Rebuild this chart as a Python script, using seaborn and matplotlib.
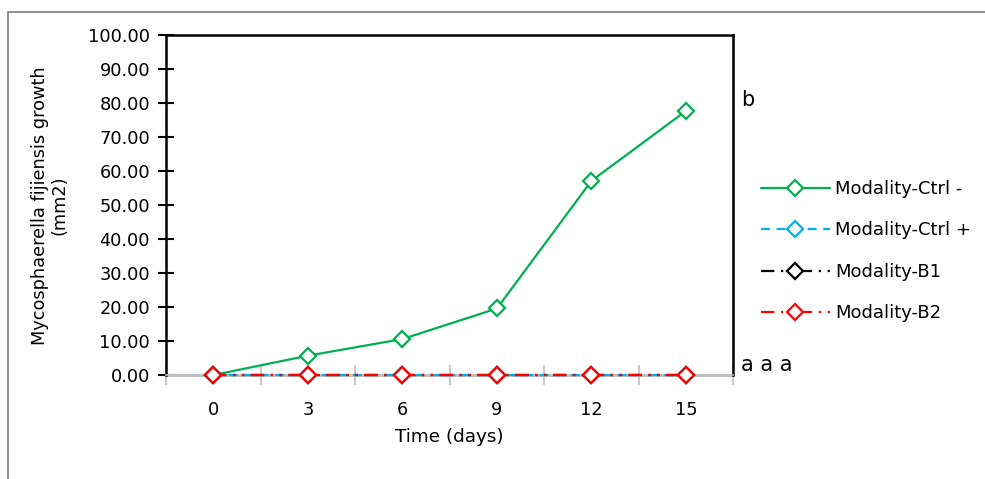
import pandas as pd
import matplotlib.pyplot as plt
import seaborn as sns
from matplotlib.patches import Rectangle
from matplotlib.ticker import FixedLocator, NullFormatter

# data
days = ["0", "3", "6", "9", "12", "15"]
ctrl_minus = [0.0, 5.7, 10.6, 19.6, 57.2, 77.8]
ctrl_plus = [0.0, 0.0, 0.0, 0.0, 0.0, 0.0]
b1 = [0.0, 0.0, 0.0, 0.0, 0.0, 0.0]
b2 = [0.0, 0.0, 0.0, 0.0, 0.0, 0.0]
series_names = ["Modality-Ctrl -", "Modality-Ctrl +", "Modality-B1", "Modality-B2"]
letters_top = "b"
letters_bottom = "a a a"

df = pd.DataFrame({
    "day": days * 4,
    "growth": ctrl_minus + ctrl_plus + b1 + b2,
    "modality": [n for n in series_names for _ in days],
})

sns.set_style("white")
plt.rcParams["font.family"] = ["DejaVu Sans"]
plt.rcParams["text.color"] = "black"
plt.rcParams["axes.labelcolor"] = "black"
plt.rcParams["xtick.color"] = "black"
plt.rcParams["ytick.color"] = "black"

fig = plt.figure(figsize=(9.85, 4.79), dpi=100)
ax = fig.add_axes([0.1685, 0.217, 0.576, 0.709])

colors = ["#00B050", "#00B0F0", "#000000", "#FF0000"]
styles = ["-", (0, (4, 3)), (0, (6, 3, 1, 3, 1, 3)), (0, (6, 3, 1, 3, 1, 3))]

# light grey category axis at zero
ax.axhline(0, color="#BFBFBF", lw=2.2, zorder=1, clip_on=False)

sns.pointplot(
    data=df, x="day", y="growth", hue="modality", order=days,
    hue_order=series_names, palette=colors, markers="D",
    linestyles=styles, dodge=False, errorbar=None, ax=ax,
    markersize=8, markerfacecolor="white", markeredgewidth=1.6,
    linewidth=1.6, zorder=3, clip_on=False,
)

ax.set_xlim(-0.5, 5.5)
ax.set_ylim(0, 100)
ax.set_yticks(range(0, 101, 10))
ax.set_yticklabels([f"{v:.2f}" for v in range(0, 101, 10)])
ax.tick_params(axis="y", direction="inout", length=11, width=1.5,
               color="black", labelsize=12.8, pad=6, left=True)
ax.tick_params(axis="x", which="major", length=0, labelsize=12.8, pad=19)
ax.xaxis.set_minor_locator(FixedLocator([i - 0.5 for i in range(len(days) + 1)]))
ax.xaxis.set_minor_formatter(NullFormatter())
ax.tick_params(axis="x", which="minor", direction="inout", length=14,
               width=1.2, color="#BFBFBF", bottom=True)

for side in ["left", "right", "top"]:
    ax.spines[side].set_color("black")
    ax.spines[side].set_linewidth(1.8)
ax.spines["bottom"].set_color("#BFBFBF")
ax.spines["bottom"].set_linewidth(1.2)

ax.set_xlabel("Time (days)", fontsize=13.2, labelpad=6)
ax.set_ylabel("Mycosphaerella fijiensis growth\n(mm2)", fontsize=12.8,
              labelpad=14, linespacing=1.1)

ax.text(1.013, 0.81, letters_top, transform=ax.transAxes, fontsize=15,
        va="center", ha="left")
ax.text(1.013, 0.03, letters_bottom, transform=ax.transAxes, fontsize=15,
        va="center", ha="left")

handles, labels = ax.get_legend_handles_labels()
ax.legend(handles, labels, loc="center left", bbox_to_anchor=(1.02, 0.365),
          frameon=False, fontsize=13, handlelength=3.8, labelspacing=1.3,
          handletextpad=0.3)

# outer chart frame (cropped on right and bottom)
fig.add_artist(Rectangle((8 / 985, -0.1), 1.2, 1.1 - 12 / 479,
                         transform=fig.transFigure, fill=False,
                         edgecolor="#7F7F7F", lw=1.2, clip_on=False))

fig.savefig("out.png", dpi=100)
